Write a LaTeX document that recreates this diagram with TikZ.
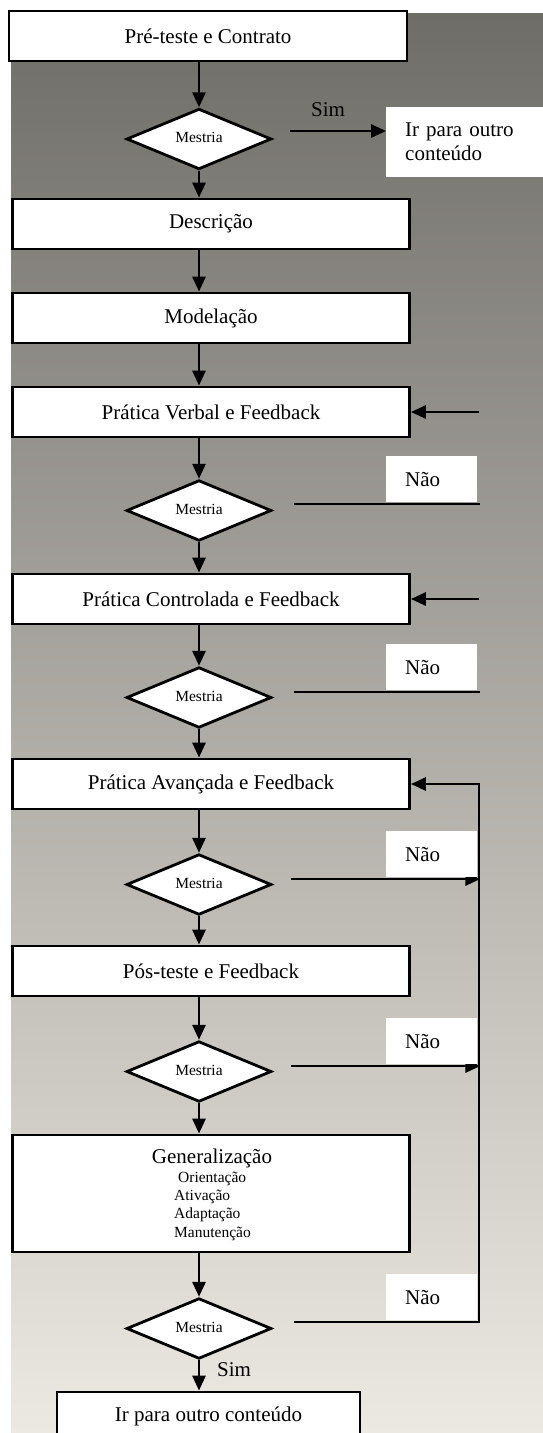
\documentclass[tikz,border=0pt]{standalone}
\usepackage{fontspec}
\setmainfont{Liberation Serif}
\usetikzlibrary{shapes.geometric,arrows.meta}

\newcommand{\boxfont}{\fontsize{21}{24}\selectfont}
\newcommand{\smallfont}{\fontsize{15.5}{18.4}\selectfont}
\definecolor{bgtop}{HTML}{6F6D68}
\definecolor{bgmid}{HTML}{B8B6B0}
\definecolor{bgbot}{HTML}{ECE9E2}

\tikzset{
  stepbox/.style={draw, fill=white, line width=2.8pt, minimum width=397pt, minimum height=50pt, inner sep=0pt, font=\boxfont},
  decide/.style={diamond, draw, fill=white, line width=2.8pt, minimum width=145pt, minimum height=59pt, inner sep=0pt, font=\smallfont},
  nobox/.style={fill=white, anchor=south west, minimum width=91pt, minimum height=46pt, text width=53pt, inner xsep=19pt, inner ysep=0pt, align=left, font=\boxfont},
  arr/.style={line width=2.8pt, -{Triangle[length=15pt,width=13pt]}},
  link/.style={line width=2.8pt}
}

\begin{document}
\begin{tikzpicture}[x=1pt, y=-1pt]
  \useasboundingbox (0,0) rectangle (543,1433);
  \clip (0,0) rectangle (543,1433);
  \fill[white] (0,0) rectangle (543,1433);
  \shade[top color=bgtop, middle color=bgmid, bottom color=bgbot] (11,13) rectangle (543,1433);

  % main column
  \node[stepbox, minimum width=398pt] (pre) at (208,36) {Pré-teste e Contrato};
  \node[decide] (m1) at (199,139) {\raisebox{3pt}{Mestria}};
  \node[stepbox] (desc) at (211,224) {Descrição};
  \node[stepbox] (model) at (211,318) {Modelação};
  \node[stepbox] (verbal) at (211,412) {Prática Verbal e Feedback};
  \node[decide] (m2) at (199,510.5) {\raisebox{3pt}{Mestria}};
  \node[stepbox] (contr) at (211,599) {Prática Controlada e Feedback};
  \node[decide] (m3) at (199,697.5) {\raisebox{3pt}{Mestria}};
  \node[stepbox] (avanc) at (211,784) {Prática Avançada e Feedback};
  \node[decide] (m4) at (199,884.5) {\raisebox{3pt}{Mestria}};
  \node[stepbox] (pos) at (211,971) {Pós-teste e Feedback};
  \node[decide] (m5) at (199,1071.5) {\raisebox{3pt}{Mestria}};
  \node[stepbox, minimum height=117pt] (gen) at (211,1193.5) {};
  \node[font=\boxfont, anchor=base] (gentitle) at (212,1163) {Generalização};
  \node[font=\smallfont, align=left, anchor=north west, inner sep=0pt] (genlist) at (174,1171.5)
    {\hspace*{4pt}Orientação\\Ativação\\Adaptação\\Manutenção};
  \node[decide] (m6) at (199,1328.5) {\raisebox{3pt}{Mestria}};
  \node[stepbox, minimum width=303pt, minimum height=48pt] (final) at (208.5,1416) {Ir para outro conteúdo};

  \foreach \a/\b in {pre/m1, m1/desc, desc/model, model/verbal, verbal/m2, m2/contr, contr/m3,
                     m3/avanc, avanc/m4, m4/pos, pos/m5, m5/gen, gen/m6, m6/final}
    \draw[arr] (\a.south -| m1) -- (\b.north -| m1);

  % Sim branch
  \node[fill=white, anchor=north west, minimum height=70pt, text width=140pt, inner xsep=19pt,
        align=left, font=\boxfont] (outro) at (386,107) {Ir para outro\\conteúdo};
  \node[font=\boxfont] (sim1) at (328,110) {Sim};
  \node[font=\boxfont] (sim2) at (234,1370) {Sim};
  \coordinate (s1) at (290,131);
  \draw[arr] (s1) -- (outro.west |- s1);

  % return line
  \coordinate (back) at (479,784);
  \draw[arr] (back |- verbal.east) -- (verbal.east);
  \draw[arr] (back |- contr.east) -- (contr.east);
  \draw[arr] ([xshift=21pt,yshift=6.5pt]m6.east) -| (back) -- (avanc.east);

  % Nao branches
  \draw[link] ([xshift=21pt,yshift=6.5pt]m2.east) -- ++(186.5,0);
  \draw[link] ([xshift=21pt,yshift=5.5pt]m3.east) -- ++(186.5,0);
  \draw[arr] ([xshift=18.5pt,yshift=5.5pt]m4.east) -- ++(189,0);
  \draw[arr] ([xshift=18.5pt,yshift=5.5pt]m5.east) -- ++(189,0);
  \node[nobox] (nao2) at (386,502.5) {Não};
  \node[nobox] (nao3) at (386,690.5) {Não};
  \node[nobox] (nao4) at (386,877.5) {Não};
  \node[nobox] (nao5) at (386,1064.5) {Não};
  \node[nobox] (nao6) at (386,1320.5) {Não};
\end{tikzpicture}
\end{document}
